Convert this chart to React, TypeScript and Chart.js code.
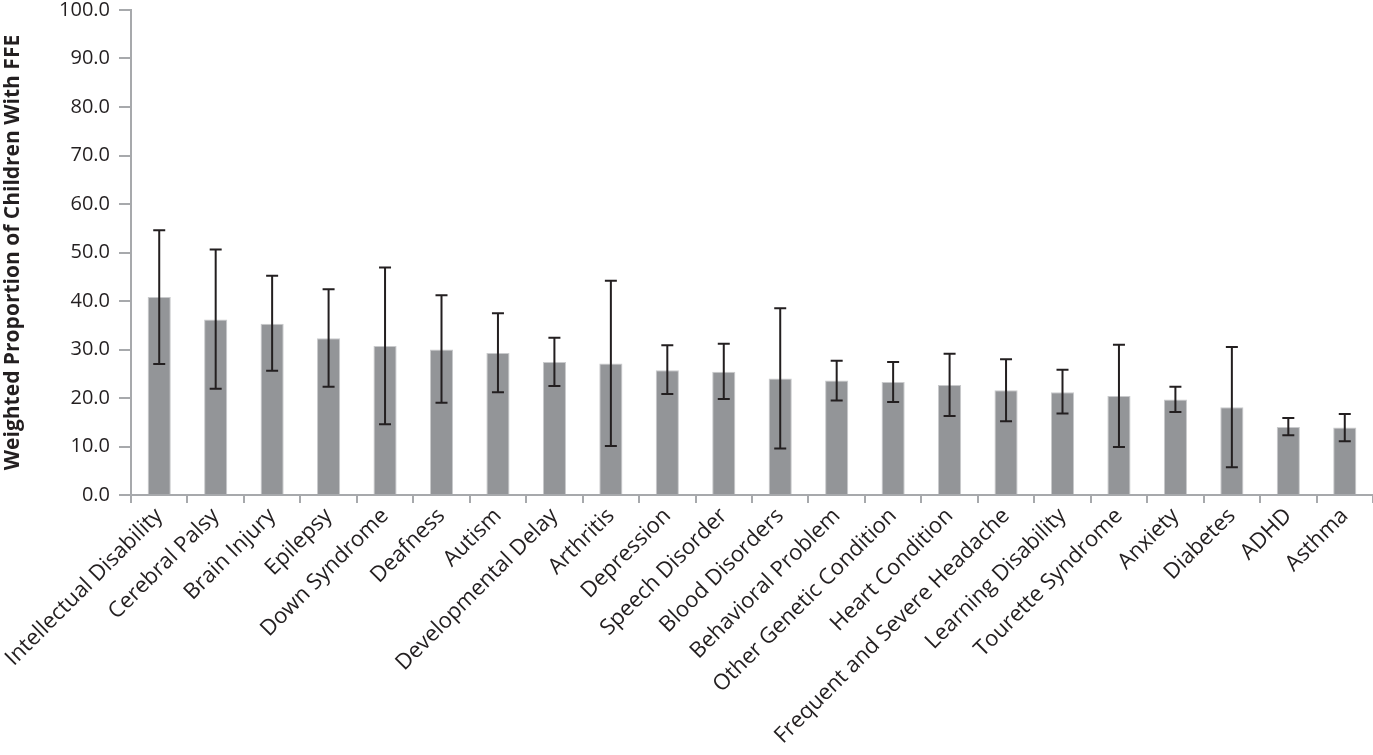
import React, { useEffect, useRef } from "react";
import { Chart, registerables } from "chart.js";

Chart.register(...registerables);

const categories = [
  "Intellectual Disability", "Cerebral Palsy", "Brain Injury", "Epilepsy", "Down Syndrome",
  "Deafness", "Autism", "Developmental Delay", "Arthritis", "Depression", "Speech Disorder",
  "Blood Disorders", "Behavioral Problem", "Other Genetic Condition", "Heart Condition",
  "Frequent and Severe Headache", "Learning Disability", "Tourette Syndrome", "Anxiety",
  "Diabetes", "ADHD", "Asthma",
];
const values = [40.8, 36.2, 35.3, 32.3, 30.7, 30.0, 29.3, 27.4, 27.1, 25.7, 25.4, 24.0, 23.6, 23.3, 22.7, 21.6, 21.2, 20.4, 19.7, 18.1, 14.0, 13.9];
const lowerCI = [27.0, 21.9, 25.6, 22.3, 14.6, 19.0, 21.2, 22.5, 10.1, 20.8, 19.8, 9.6, 19.5, 19.2, 16.3, 15.2, 16.8, 9.9, 17.1, 5.7, 12.3, 11.1];
const upperCI = [54.6, 50.6, 45.2, 42.4, 46.9, 41.2, 37.5, 32.4, 44.2, 30.9, 31.2, 38.5, 27.7, 27.4, 29.1, 28.0, 25.8, 31.0, 22.3, 30.5, 15.9, 16.7];
const yTicks = [0, 10, 20, 30, 40, 50, 60, 70, 80, 90, 100];

const FONT = "'Open Sans', 'Noto Sans', sans-serif";

const errorBarPlugin = {
  id: "errorBars",
  afterDatasetsDraw(chart: any) {
    const ctx = chart.ctx;
    const meta = chart.getDatasetMeta(0);
    const y = chart.scales.y;
    ctx.save();
    ctx.strokeStyle = "#231f20";
    ctx.lineWidth = 2;
    meta.data.forEach((bar: any, i: number) => {
      const x = bar.x;
      const yl = y.getPixelForValue(lowerCI[i]);
      const yu = y.getPixelForValue(upperCI[i]);
      ctx.beginPath();
      ctx.moveTo(x, yl);
      ctx.lineTo(x, yu);
      ctx.moveTo(x - 6, yl);
      ctx.lineTo(x + 6, yl);
      ctx.moveTo(x - 6, yu);
      ctx.lineTo(x + 6, yu);
      ctx.stroke();
    });
    ctx.restore();
  },
};

export default function App() {
  const ref = useRef<HTMLCanvasElement>(null);
  useEffect(() => {
    document.body.style.margin = "0";
    const chart = new Chart(ref.current!, {
      type: "bar",
      data: {
        labels: categories,
        datasets: [
          {
            data: values,
            backgroundColor: "#939598",
            borderColor: "#c9cacc",
            borderWidth: 1,
            barPercentage: 0.41,
            categoryPercentage: 1,
          },
        ],
      },
      options: {
        animation: false,
        responsive: false,
        maintainAspectRatio: false,
        layout: { padding: { top: 10, right: 0, left: 0, bottom: 0 } },
        plugins: { legend: { display: false }, tooltip: { enabled: false } },
        scales: {
          x: {
            offset: true,
            grid: {
              offset: true,
              drawOnChartArea: false,
              tickLength: 8,
              color: "#a7a9ac",
              lineWidth: 2,
            },
            border: { color: "#a7a9ac", width: 2 },
            ticks: {
              maxRotation: 45,
              minRotation: 45,
              autoSkip: false,
              color: "#231f20",
              font: { family: FONT, size: 22 },
              padding: 0,
            },
            afterFit(scale: any) {
              scale.height = 260;
              scale.paddingLeft = 0;
              scale.paddingRight = 0;
            },
          },
          y: {
            min: 0,
            max: 100,
            afterBuildTicks(scale: any) {
              scale.ticks = yTicks.map((v) => ({ value: v }));
            },
            grid: {
              drawOnChartArea: false,
              tickLength: 12,
              color: "#a7a9ac",
              lineWidth: 2,
            },
            border: { color: "#a7a9ac", width: 2 },
            ticks: {
              color: "#231f20",
              font: { family: FONT, size: 20 },
              padding: 9,
              callback: (v: any) => Number(v).toFixed(1),
            },
            title: {
              display: true,
              text: "Weighted Proportion of Children With FFE",
              color: "#231f20",
              font: { family: FONT, size: 21, weight: "bold" },
              padding: { top: 0, bottom: 0 },
            },
            afterFit(scale: any) {
              scale.width = 131;
              scale.paddingTop = 0;
              scale.paddingBottom = 0;
            },
          },
        },
      },
      plugins: [errorBarPlugin],
    } as any);
    return () => chart.destroy();
  }, []);
  return (
    <div style={{ width: 1373, height: 755, background: "#fff" }}>
      <canvas ref={ref} width={1373} height={755} />
    </div>
  );
}
